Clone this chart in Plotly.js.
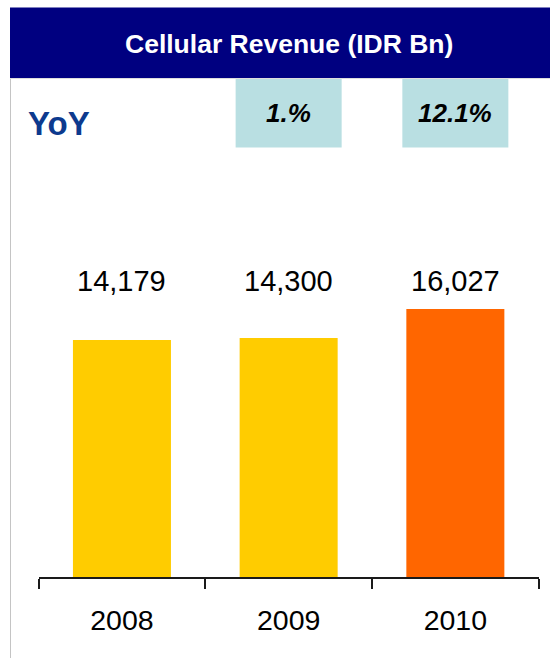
<!DOCTYPE html>
<html>
<head>
<meta charset="utf-8">
<script src="https://cdn.plot.ly/plotly-3.0.1.min.js"></script>
<style>
  html, body { margin: 0; padding: 0; background: #ffffff; }
  #chart { width: 550px; height: 658px; }
</style>
</head>
<body>
<div id="chart"></div>
<script>
// ---- data ----
const years = ["2008", "2009", "2010"];
const revenue = [14179, 14300, 16027];
const yoyLabels = [null, "1.%", "12.1%"];
const barColors = ["#FFCC00", "#FFCC00", "#FF6600"];
const chartTitle = "Cellular Revenue (IDR Bn)";
const yoyTitle = "YoY";

// ---- layout helpers ----
const W = 550, H = 658;
const px = v => v / W;           // x pixel -> paper
const py = v => 1 - v / H;       // y pixel -> paper
const FONT = "Liberation Sans, Arial, Helvetica, sans-serif";

const fmt = v => v.toLocaleString("en-US");

const shapes = [
  // header band
  { type: "rect", xref: "paper", yref: "paper", x0: px(10), x1: 1, y0: py(78), y1: py(7.5),
    fillcolor: "#000080", line: { width: 0 }, layer: "below" },
  // left border
  { type: "line", xref: "paper", yref: "paper", x0: px(10.5), x1: px(10.5), y0: 0, y1: py(78),
    line: { color: "#c4c4c4", width: 1 } },
  // faint line under header
  { type: "line", xref: "paper", yref: "paper", x0: px(10), x1: 1, y0: py(78.5), y1: py(78.5),
    line: { color: "#dddddd", width: 1 } }
];

const annotations = [
  { xref: "paper", yref: "paper", x: px(289), y: py(44), text: "<b>" + chartTitle + "</b>",
    showarrow: false, xanchor: "center", yanchor: "middle",
    font: { family: FONT, size: 26.5, color: "#ffffff" } },
  { xref: "paper", yref: "paper", x: px(59), y: py(124), text: "<b>" + yoyTitle + "</b>",
    showarrow: false, xanchor: "center", yanchor: "middle",
    font: { family: FONT, size: 33, color: "#0D3A8E" } }
];

yoyLabels.forEach((lab, i) => {
  if (lab === null) return;
  shapes.push({ type: "rect", xref: "x", yref: "paper", x0: i - 0.318, x1: i + 0.318,
    y0: py(147.5), y1: py(78), fillcolor: "#B9DFE2", line: { width: 0 }, layer: "below" });
  annotations.push({ xref: "x", yref: "paper", x: i, y: py(113),
    text: "<b><i>" + lab + "</i></b>", showarrow: false, xanchor: "center", yanchor: "middle",
    font: { family: FONT, size: 26, color: "#000000" } });
});

revenue.forEach((v, i) => {
  annotations.push({ xref: "x", yref: "paper", x: i, y: py(281), text: fmt(v),
    showarrow: false, xanchor: "center", yanchor: "middle",
    font: { family: FONT, size: 29, color: "#000000" } });
});

const trace = {
  type: "bar",
  x: years,
  y: revenue,
  marker: { color: barColors, line: { width: 0 } },
  hoverinfo: "none"
};

const layout = {
  width: W, height: H,
  margin: { l: 0, r: 0, t: 0, b: 0, pad: 0 },
  paper_bgcolor: "#ffffff",
  plot_bgcolor: "#ffffff",
  showlegend: false,
  bargap: 0.412,
  xaxis: {
    type: "category",
    domain: [px(38.6), px(538.7)],
    range: [-0.5, 2.5],
    showline: true, linecolor: "#1a1a1a", linewidth: 2,
    ticks: "outside", tickson: "boundaries", ticklen: 10, tickwidth: 2, tickcolor: "#1a1a1a",
    showgrid: false, zeroline: false,
    tickfont: { family: FONT, size: 28.5, color: "#000000" },
    ticklabelstandoff: 16,
    automargin: false,
    fixedrange: true
  },
  yaxis: {
    domain: [1 - 577.3 / H, 1],
    range: [0, 34487],
    visible: false,
    showgrid: false, zeroline: false,
    automargin: false,
    fixedrange: true
  },
  shapes: shapes,
  annotations: annotations
};

Plotly.newPlot("chart", [trace], layout, { staticPlot: true, displayModeBar: false });
</script>
</body>
</html>
